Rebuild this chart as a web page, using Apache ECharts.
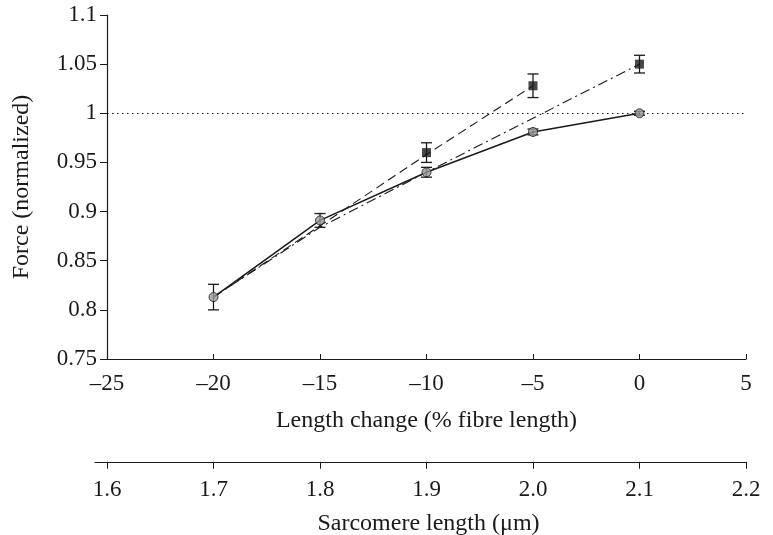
<!DOCTYPE html>
<html>
<head>
<meta charset="utf-8">
<script src="https://cdn.jsdelivr.net/npm/echarts@6/dist/echarts.min.js"></script>
<style>
  html, body { margin: 0; padding: 0; background: #fff; }
  #chart { width: 773px; height: 535px; }
</style>
</head>
<body>
<div id="chart"></div>
<script>
// length change (% fibre length)
const lengthChange = [-20, -15, -10, -5, 0];
// grey circles, solid line
const circleForce = [0.813, 0.891, 0.94, 0.981, 1.0];
const circleErr = [0.013, 0.007, 0.005, 0.003, 0.002];
// black squares
const squareX = [-10, -5, 0];
const squareForce = [0.96, 1.028, 1.05];
const squareErr = [0.01, 0.012, 0.009];
// dashed line
const dashedX = [-20, -10, -5];
const dashedForce = [0.813, 0.958, 1.028];
// dash-dot line
const dashDotX = [-20, -15, -10, -5, 0];
const dashDotForce = [0.813, 0.884, 0.94, 0.995, 1.05];
// axes
const yTicks = [0.75, 0.8, 0.85, 0.9, 0.95, 1, 1.05, 1.1];
const sarcomereTicks = [1.6, 1.7, 1.8, 1.9, 2.0, 2.1, 2.2];

const font = "Liberation Serif";
const ink = "#1a1a1a";
const tickSize = 23;
const nameSize = 24;

const pairs = (xs, ys) => xs.map((x, i) => [x, ys[i]]);
const errData = (xs, ys, es) => xs.map((x, i) => [x, ys[i] - es[i], ys[i] + es[i]]);

function renderErr(params, api) {
  const x = api.value(0);
  const lo = api.coord([x, api.value(1)]);
  const hi = api.coord([x, api.value(2)]);
  const w = 5.5;
  const st = { stroke: ink, lineWidth: 1.3 };
  return {
    type: "group",
    children: [
      { type: "line", shape: { x1: lo[0], y1: lo[1], x2: hi[0], y2: hi[1] }, style: st },
      { type: "line", shape: { x1: lo[0] - w, y1: lo[1], x2: lo[0] + w, y2: lo[1] }, style: st },
      { type: "line", shape: { x1: hi[0] - w, y1: hi[1], x2: hi[0] + w, y2: hi[1] }, style: st }
    ]
  };
}

const chart = echarts.init(document.getElementById("chart"));
chart.setOption({
  animation: false,
  textStyle: { fontFamily: font, color: ink },
  grid: [
    { left: 107, right: 27, top: 15, bottom: 176 },
    { left: 95, right: 27, top: 460, height: 7 }
  ],
  xAxis: [
    {
      gridIndex: 0,
      type: "value",
      min: -25,
      max: 5,
      interval: 5,
      name: "Length change (% fibre length)",
      nameLocation: "middle",
      nameGap: 50,
      nameTextStyle: { fontFamily: font, fontSize: nameSize, color: ink },
      axisLine: { onZero: false, lineStyle: { color: ink, width: 1.2 } },
      axisTick: { inside: true, length: 5, lineStyle: { color: ink } },
      axisLabel: {
        fontFamily: font, fontSize: tickSize, color: ink, margin: 13,
        formatter: v => String(v).replace("-", "\u2013")
      },
      splitLine: { show: false }
    },
    {
      gridIndex: 1,
      type: "value",
      min: 1.6 - 12 / 1065,
      max: 2.2,
      position: "bottom",
      name: "Sarcomere length (\u03bcm)",
      nameLocation: "middle",
      nameGap: 50,
      nameTextStyle: { fontFamily: font, fontSize: nameSize, color: ink, padding: [0, 0, 0, 16] },
      axisLine: { onZero: false, lineStyle: { color: ink, width: 1.2 } },
      axisTick: { length: 7, lineStyle: { color: ink }, customValues: sarcomereTicks },
      axisLabel: {
        fontFamily: font, fontSize: tickSize, color: ink, margin: 17,
        customValues: sarcomereTicks,
        formatter: v => v.toFixed(1)
      },
      splitLine: { show: false }
    }
  ],
  yAxis: [
    {
      gridIndex: 0,
      type: "value",
      min: yTicks[0],
      max: yTicks[yTicks.length - 1],
      interval: 0.05,
      name: "Force (normalized)",
      nameLocation: "middle",
      nameGap: 73,
      nameTextStyle: { fontFamily: font, fontSize: nameSize, color: ink },
      axisLine: { show: true, onZero: false, lineStyle: { color: ink, width: 1.2 } },
      axisTick: { show: true, length: 7, lineStyle: { color: ink } },
      axisLabel: { fontFamily: font, fontSize: tickSize, color: ink, margin: 10 },
      splitLine: { show: false }
    },
    { gridIndex: 1, show: false, min: 0, max: 1 }
  ],
  series: [
    {
      type: "line",
      data: pairs(dashedX, dashedForce),
      symbol: "none",
      lineStyle: { color: ink, width: 1.1, type: [9, 5] },
      markLine: {
        silent: true,
        symbol: "none",
        label: { show: false },
        lineStyle: { color: ink, width: 1.2, type: [1.5, 3.5] },
        data: [{ yAxis: 1 }]
      },
      z: 2
    },
    {
      type: "line",
      data: pairs(dashDotX, dashDotForce),
      symbol: "none",
      lineStyle: { color: ink, width: 1.1, type: [10, 4, 2, 4] },
      z: 2
    },
    {
      type: "line",
      data: pairs(lengthChange, circleForce),
      symbol: "none",
      lineStyle: { color: ink, width: 1.5 },
      z: 3
    },
    {
      type: "custom",
      data: errData(lengthChange, circleForce, circleErr),
      renderItem: renderErr,
      z: 4
    },
    {
      type: "custom",
      data: errData(squareX, squareForce, squareErr),
      renderItem: renderErr,
      z: 4
    },
    {
      type: "scatter",
      data: pairs(lengthChange, circleForce),
      symbol: "circle",
      symbolSize: 9,
      itemStyle: { color: "#9a9a9a", borderColor: ink, borderWidth: 1 },
      z: 5
    },
    {
      type: "scatter",
      data: pairs(squareX, squareForce),
      symbol: "rect",
      symbolSize: 9,
      itemStyle: { color: ink },
      z: 5
    }
  ]
});
</script>
</body>
</html>
